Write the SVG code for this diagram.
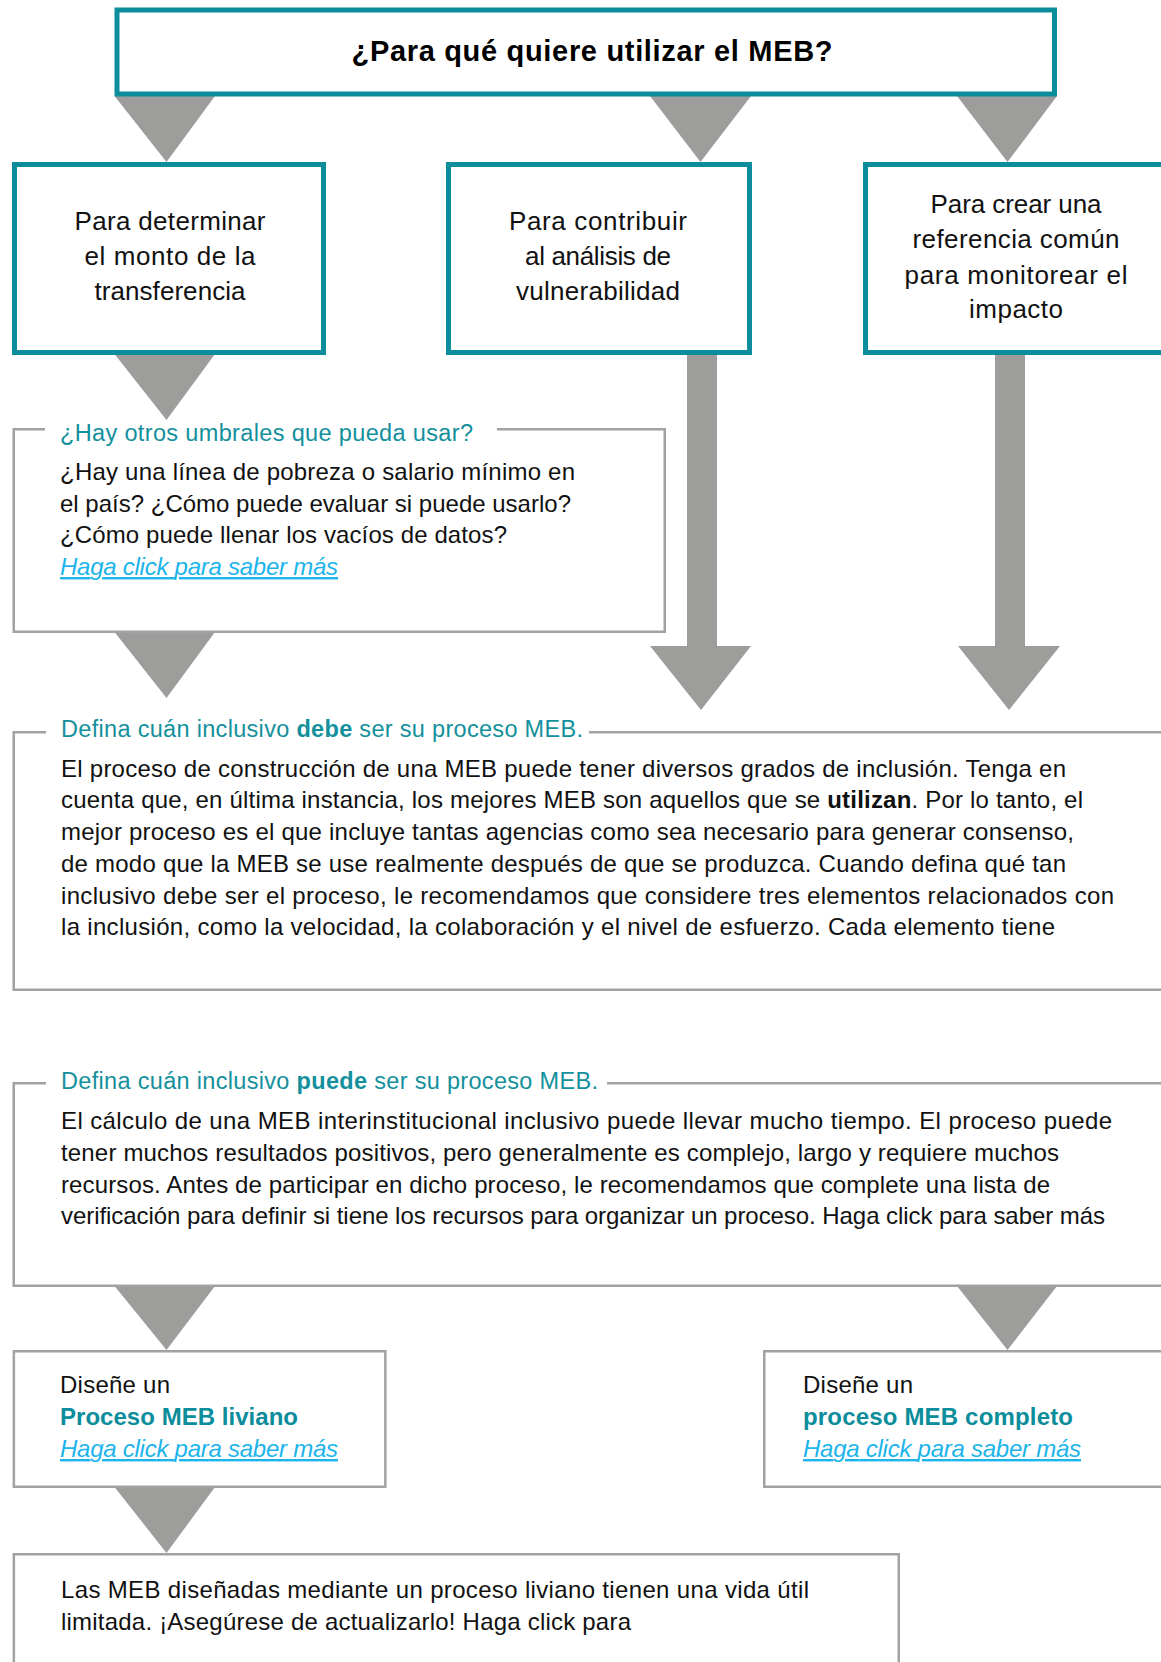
<svg xmlns="http://www.w3.org/2000/svg" width="1161" height="1662" viewBox="0 0 1161 1662">
<style>
.bg{fill:#ffffff}
.tbox{fill:#ffffff;stroke:#0b8d9b;stroke-width:5}
.gbox{fill:#ffffff;stroke:#a2a2a2;stroke-width:2.5}
.gline{fill:none;stroke:#a2a2a2;stroke-width:2.5}
.arr{fill:#9d9d9c}
.head{font-family:"Liberation Sans",Arial,sans-serif;font-weight:bold;font-size:29px;fill:#000;text-anchor:middle}
.opt{font-family:"Liberation Sans",Arial,sans-serif;font-size:26px;fill:#111;text-anchor:middle}
.ttl{font-family:"Liberation Sans",Arial,sans-serif;font-size:23.5px;fill:#13909c}
.body{font-family:"Liberation Sans",Arial,sans-serif;font-size:24px;fill:#111}
.link{font-family:"Liberation Sans",Arial,sans-serif;font-size:24px;font-style:italic;fill:#1cb4ea;text-decoration:underline}
.teal{font-family:"Liberation Sans",Arial,sans-serif;font-size:24px;font-weight:bold;fill:#0b8d9b}
</style>
<rect class="bg" x="0" y="0" width="1161" height="1662"/>

<g id="connectors">
  <polygon class="arr" points="114.5,96 215,96 166.5,162"/>
  <polygon class="arr" points="650,96 751,96 700.5,162"/>
  <polygon class="arr" points="957,96 1057,96 1007.5,162"/>
  <polygon class="arr" points="114.5,354 215,354 166.5,420"/>
  <polygon class="arr" points="687,354 717,354 717,646 751,646 701,710 650,646 687,646"/>
  <polygon class="arr" points="995,354 1025,354 1025,646 1060,646 1009,710 958,646 995,646"/>
  <polygon class="arr" points="114.5,632 215,632 166.5,698"/>
  <polygon class="arr" points="114.5,1286 215,1286 166.5,1350"/>
  <polygon class="arr" points="957,1286 1057,1286 1007.5,1350"/>
  <polygon class="arr" points="114.5,1487 215,1487 166.5,1553"/>
</g>

<g id="node-question">
  <rect class="tbox" x="117" y="10" width="937.5" height="84"/>
  <text class="head" x="592" y="61" textLength="481">¿Para qué quiere utilizar el MEB?</text>
</g>

<g id="node-monto">
  <rect class="tbox" x="14.5" y="164.5" width="309" height="188"/>
  <text class="opt" x="170" y="230" textLength="191">Para determinar</text>
  <text class="opt" x="170" y="265" textLength="171">el monto de la</text>
  <text class="opt" x="170" y="300" textLength="151">transferencia</text>
</g>

<g id="node-vulnerabilidad">
  <rect class="tbox" x="448.5" y="164.5" width="301" height="188"/>
  <text class="opt" x="598" y="230" textLength="178">Para contribuir</text>
  <text class="opt" x="598" y="265" textLength="146">al análisis de</text>
  <text class="opt" x="598" y="300" textLength="164">vulnerabilidad</text>
</g>

<g id="node-impacto">
  <rect class="tbox" x="865.5" y="164.5" width="320" height="188"/>
  <text class="opt" x="1016" y="213" textLength="171">Para crear una</text>
  <text class="opt" x="1016" y="248" textLength="207">referencia común</text>
  <text class="opt" x="1016" y="284" textLength="223">para monitorear el</text>
  <text class="opt" x="1016" y="318" textLength="94">impacto</text>
</g>

<g id="node-umbrales">
  <rect class="bg" x="13.75" y="429.25" width="651" height="202.5"/>
  <path class="gline" d="M45,429.25 H13.75 V631.75 H664.75 V429.25 H497"/>
  <text class="ttl" x="60" y="441" textLength="413">¿Hay otros umbrales que pueda usar?</text>
  <text class="body" x="60" y="480" textLength="515">¿Hay una línea de pobreza o salario mínimo en</text>
  <text class="body" x="60" y="512" textLength="511">el país? ¿Cómo puede evaluar si puede usarlo?</text>
  <text class="body" x="60" y="543" textLength="447">¿Cómo puede llenar los vacíos de datos?</text>
  <text class="link" x="60" y="575" textLength="278">Haga click para saber más</text>
</g>

<g id="node-debe">
  <path class="gline" d="M46,732.25 H13.75 V989.75 H1175 M589,732.25 H1175"/>
  <text class="ttl" x="61" y="737" textLength="522">Defina cuán inclusivo <tspan font-weight="bold">debe</tspan> ser su proceso MEB.</text>
  <text class="body" x="61" y="777" textLength="1005">El proceso de construcción de una MEB puede tener diversos grados de inclusión. Tenga en</text>
  <text class="body" x="61" y="808" textLength="1022">cuenta que, en última instancia, los mejores MEB son aquellos que se <tspan font-weight="bold">utilizan</tspan>. Por lo tanto, el</text>
  <text class="body" x="61" y="840" textLength="1013">mejor proceso es el que incluye tantas agencias como sea necesario para generar consenso,</text>
  <text class="body" x="61" y="872" textLength="1005">de modo que la MEB se use realmente después de que se produzca. Cuando defina qué tan</text>
  <text class="body" x="61" y="904" textLength="1053">inclusivo debe ser el proceso, le recomendamos que considere tres elementos relacionados con</text>
  <text class="body" x="61" y="935" textLength="994">la inclusión, como la velocidad, la colaboración y el nivel de esfuerzo. Cada elemento tiene</text>
</g>

<g id="node-puede">
  <path class="gline" d="M46,1083.25 H13.75 V1285.75 H1175 M607,1083.25 H1175"/>
  <text class="ttl" x="61" y="1089" textLength="537">Defina cuán inclusivo <tspan font-weight="bold">puede</tspan> ser su proceso MEB.</text>
  <text class="body" x="61" y="1129" textLength="1051">El cálculo de una MEB interinstitucional inclusivo puede llevar mucho tiempo. El proceso puede</text>
  <text class="body" x="61" y="1161" textLength="998">tener muchos resultados positivos, pero generalmente es complejo, largo y requiere muchos</text>
  <text class="body" x="61" y="1193" textLength="989">recursos. Antes de participar en dicho proceso, le recomendamos que complete una lista de</text>
  <text class="body" x="61" y="1224" textLength="1044">verificación para definir si tiene los recursos para organizar un proceso. Haga click para saber más</text>
</g>

<g id="node-liviano">
  <rect class="gbox" x="13.85" y="1351.25" width="371.5" height="135.5"/>
  <text class="body" x="60" y="1393" textLength="110">Diseñe un</text>
  <text class="teal" x="60" y="1425" textLength="238">Proceso MEB liviano</text>
  <text class="link" x="60" y="1457" textLength="278">Haga click para saber más</text>
</g>

<g id="node-completo">
  <rect class="gbox" x="764.25" y="1351.25" width="420" height="135.5"/>
  <text class="body" x="803" y="1393" textLength="110">Diseñe un</text>
  <text class="teal" x="803" y="1425" textLength="270">proceso MEB completo</text>
  <text class="link" x="803" y="1457" textLength="278">Haga click para saber más</text>
</g>

<g id="node-vida-util">
  <rect class="gbox" x="13.85" y="1554.25" width="884.9" height="200"/>
  <text class="body" x="61" y="1598" textLength="748">Las MEB diseñadas mediante un proceso liviano tienen una vida útil</text>
  <text class="body" x="61" y="1630" textLength="570">limitada. ¡Asegúrese de actualizarlo! Haga click para</text>
</g>
</svg>
